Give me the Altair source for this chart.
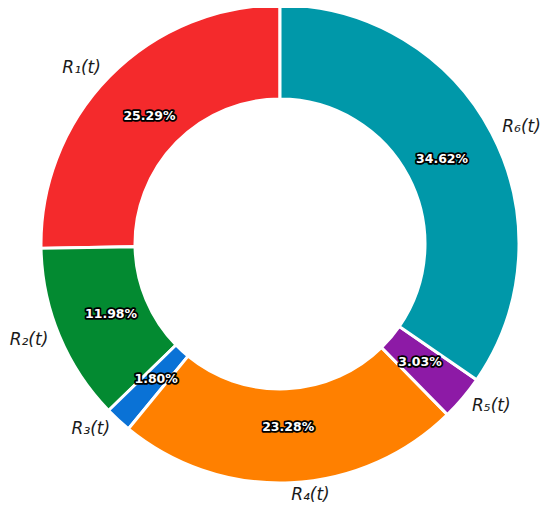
import altair as alt
import pandas as pd

names = ["R₁(t)", "R₂(t)", "R₃(t)", "R₄(t)", "R₅(t)", "R₆(t)"]
shares = [25.29, 11.98, 1.80, 23.28, 3.03, 34.62]
pct_labels = ["25.29%", "11.98%", "1.80%", "23.28%", "3.03%", "34.62%"]
colors = ["#F42A2C", "#038A31", "#0A72D6", "#FF8000", "#8D1AA6", "#0098A9"]
# clockwise drawing order (the reference runs counterclockwise from the top)
cw_order = [5, 4, 3, 2, 1, 0]

df = pd.DataFrame({
    "name": names,
    "value": shares,
    "pct": pct_labels,
    "k": cw_order,
})

CX, CY = 272, 236
R_OUT, R_IN = 239, 145
R_PCT, R_LAB = 183, 251

base = alt.Chart(df).transform_window(
    cum="sum(value)", sort=[alt.SortField("k")], frame=[None, 0]
).transform_calculate(
    start="datum.cum - datum.value",
    end="datum.cum",
    mid="datum.cum - datum.value / 2",
    side="datum.cum - datum.value / 2 < 50 ? 'right' : 'left'",
)

theta_scale = alt.Scale(domain=[0, 100])

arcs = base.mark_arc(
    outerRadius=R_OUT, innerRadius=R_IN, stroke="white", strokeWidth=3
).encode(
    theta=alt.Theta("start:Q", scale=theta_scale),
    theta2="end:Q",
    color=alt.Color("name:N", scale=alt.Scale(domain=names, range=colors), legend=None),
    x=alt.value(CX),
    y=alt.value(CY),
)

pct_common = dict(radius=R_PCT, font="DejaVu Sans", fontSize=12.5, fontWeight="bold",
                  baseline="middle", align="center")

pct_outline = base.mark_text(
    stroke="black", strokeWidth=3.5, strokeJoin="round", fill="black", **pct_common
).encode(
    theta=alt.Theta("mid:Q", scale=theta_scale),
    text="pct:N",
    x=alt.value(CX),
    y=alt.value(CY),
)

pct_text = base.mark_text(fill="white", **pct_common).encode(
    theta=alt.Theta("mid:Q", scale=theta_scale),
    text="pct:N",
    x=alt.value(CX),
    y=alt.value(CY),
)

lab_common = dict(radius=R_LAB, font="DejaVu Sans", fontSize=17, fontStyle="italic",
                  color="#1a1a1a", baseline="middle")

lab_right = base.mark_text(align="left", **lab_common).encode(
    theta=alt.Theta("mid:Q", scale=theta_scale),
    text="name:N",
    x=alt.value(CX),
    y=alt.value(CY),
).transform_filter("datum.side == 'right'")

lab_left = base.mark_text(align="right", **lab_common).encode(
    theta=alt.Theta("mid:Q", scale=theta_scale),
    text="name:N",
    x=alt.value(CX),
    y=alt.value(CY),
).transform_filter("datum.side == 'left'")

chart = alt.layer(arcs, pct_outline, pct_text, lab_right, lab_left).properties(
    width=534, height=496, padding=0, autosize=alt.AutoSizeParams(type="none"),
    background="white",
).configure_view(stroke=None)

chart.save("out.html", embed_options={"renderer": "svg", "actions": False})
